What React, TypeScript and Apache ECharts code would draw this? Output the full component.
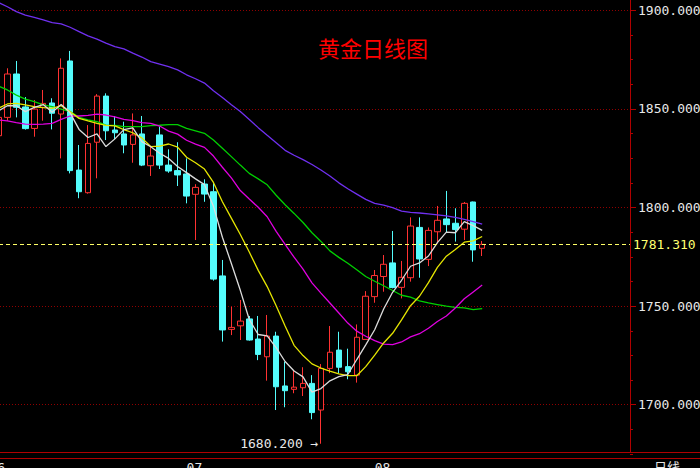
import React, { useEffect, useRef } from 'react';
import * as echarts from 'echarts';

// ---- categories (month tags) ----
const monthLabels = ['06', '07', '08'];
const monthStartSlots = [0, 22, 43];
const leadSlots = 1;
const totalSlots = 72;

// ---- daily candles ----
const opens = [1836.4, 1845.7, 1867.7, 1851.0, 1840.1, 1850.8, 1853.0, 1847.4, 1874.3, 1819.0, 1807.5, 1833.1, 1856.5, 1839.3, 1837.3, 1832.0, 1837.3, 1821.2, 1836.8, 1821.5, 1818.7, 1817.0, 1806.7, 1811.9, 1808.0, 1765.3, 1738.2, 1740.0, 1743.5, 1733.3, 1724.3, 1734.8, 1709.5, 1707.8, 1708.6, 1710.8, 1697.3, 1718.4, 1727.7, 1719.3, 1715.0, 1733.1, 1754.8, 1765.0, 1771.9, 1759.5, 1764.4, 1789.9, 1773.7, 1787.7, 1794.2, 1792.0, 1789.0, 1802.8, 1779.3];
const closes = [1845.7, 1867.7, 1850.8, 1840.0, 1849.9, 1852.8, 1847.8, 1870.6, 1818.7, 1808.0, 1832.5, 1856.5, 1838.9, 1837.9, 1831.7, 1836.8, 1821.5, 1826.1, 1821.5, 1818.5, 1816.5, 1805.8, 1810.2, 1806.8, 1763.7, 1737.9, 1739.2, 1742.4, 1732.8, 1725.5, 1734.8, 1709.1, 1707.1, 1708.9, 1710.8, 1696.0, 1718.4, 1726.6, 1719.0, 1716.7, 1734.2, 1755.0, 1765.5, 1771.2, 1759.4, 1764.6, 1790.6, 1773.9, 1788.4, 1793.5, 1791.3, 1788.8, 1802.1, 1778.5, 1781.31];
const lows = [1835.0, 1844.0, 1845.7, 1839.5, 1835.9, 1844.0, 1839.6, 1824.9, 1817.3, 1804.7, 1807.0, 1814.8, 1834.2, 1834.6, 1827.5, 1822.7, 1821.0, 1816.0, 1819.5, 1817.6, 1810.9, 1802.1, 1783.5, 1802.9, 1762.9, 1732.0, 1735.3, 1732.8, 1732.5, 1722.6, 1712.2, 1697.3, 1698.7, 1705.8, 1704.4, 1692.6, 1680.2, 1716.0, 1716.0, 1712.9, 1711.2, 1733.0, 1751.7, 1757.3, 1759.0, 1753.9, 1762.4, 1764.4, 1770.3, 1781.8, 1787.4, 1782.7, 1783.5, 1772.5, 1775.4];
const highs = [1847.0, 1870.6, 1874.3, 1856.0, 1854.5, 1859.6, 1855.4, 1875.6, 1879.4, 1831.7, 1841.8, 1857.5, 1857.9, 1846.4, 1843.5, 1847.7, 1846.4, 1830.8, 1841.0, 1829.5, 1833.1, 1824.9, 1811.8, 1814.3, 1812.3, 1773.4, 1749.7, 1753.1, 1745.0, 1745.0, 1745.5, 1737.0, 1721.8, 1717.6, 1719.0, 1715.0, 1720.6, 1739.9, 1737.0, 1728.4, 1740.7, 1757.6, 1768.3, 1775.9, 1788.1, 1772.9, 1795.0, 1795.0, 1789.9, 1800.8, 1808.4, 1799.6, 1802.8, 1803.0, 1783.0];

// ---- moving averages ----
const ma5 = [1849.0, 1851.6, 1851.6, 1848.6, 1850.8, 1852.2, 1848.3, 1852.2, 1848.0, 1839.6, 1835.5, 1837.3, 1830.9, 1834.8, 1839.5, 1840.4, 1833.4, 1830.8, 1827.5, 1824.9, 1820.8, 1817.7, 1814.5, 1811.6, 1800.6, 1784.9, 1771.6, 1758.0, 1743.2, 1735.6, 1734.9, 1728.9, 1721.9, 1717.1, 1714.1, 1706.4, 1708.2, 1712.1, 1714.2, 1715.3, 1722.9, 1730.3, 1738.0, 1748.5, 1757.0, 1763.1, 1770.2, 1771.9, 1775.4, 1782.2, 1787.5, 1787.2, 1792.8, 1790.8, 1788.4];
const ma10 = [1850.3, 1852.5, 1852.8, 1852.0, 1851.1, 1850.6, 1850.3, 1851.6, 1848.6, 1845.2, 1843.9, 1842.7, 1841.6, 1841.4, 1839.5, 1837.9, 1835.3, 1830.9, 1831.1, 1832.2, 1830.6, 1825.5, 1822.7, 1819.5, 1812.7, 1802.9, 1794.6, 1786.3, 1777.4, 1768.1, 1759.9, 1750.2, 1739.9, 1730.1, 1724.9, 1720.7, 1718.6, 1717.0, 1715.6, 1714.7, 1714.7, 1719.3, 1725.1, 1731.3, 1736.2, 1743.0, 1750.2, 1755.0, 1761.9, 1769.6, 1775.3, 1778.7, 1782.4, 1783.1, 1785.3];
const ma20 = [1844.4, 1843.9, 1843.0, 1842.3, 1842.2, 1842.3, 1842.7, 1844.7, 1846.4, 1846.4, 1846.7, 1847.4, 1846.9, 1846.0, 1844.7, 1844.0, 1843.0, 1842.7, 1841.3, 1838.7, 1837.2, 1834.1, 1832.1, 1830.5, 1826.1, 1820.4, 1815.0, 1808.6, 1804.3, 1800.1, 1795.3, 1787.9, 1781.3, 1774.8, 1768.8, 1761.8, 1756.6, 1751.6, 1746.5, 1741.4, 1737.3, 1734.7, 1732.5, 1730.7, 1730.5, 1731.8, 1734.4, 1736.0, 1738.8, 1742.2, 1745.0, 1749.0, 1753.7, 1757.2, 1760.7];
const ma30 = [1861.6, 1859.6, 1857.0, 1855.0, 1853.7, 1852.0, 1851.1, 1849.9, 1848.6, 1845.7, 1844.4, 1843.5, 1841.8, 1841.6, 1841.0, 1841.0, 1841.0, 1841.5, 1841.7, 1842.0, 1842.0, 1840.1, 1838.9, 1837.6, 1834.2, 1830.0, 1825.8, 1821.5, 1817.3, 1814.5, 1811.5, 1806.2, 1801.4, 1797.0, 1792.4, 1787.2, 1782.8, 1778.0, 1774.7, 1771.7, 1768.4, 1765.0, 1762.6, 1760.3, 1757.9, 1755.5, 1754.5, 1752.7, 1751.6, 1750.8, 1750.0, 1749.4, 1749.1, 1748.2, 1748.7];
const ma60 = [1904.0, 1901.8, 1899.3, 1897.6, 1896.4, 1895.1, 1893.7, 1893.1, 1891.4, 1889.2, 1887.0, 1885.4, 1883.4, 1881.6, 1880.4, 1878.3, 1876.3, 1874.0, 1872.7, 1871.4, 1869.8, 1867.3, 1865.3, 1863.1, 1859.2, 1855.8, 1852.1, 1848.7, 1844.6, 1840.5, 1836.6, 1832.8, 1829.0, 1826.5, 1824.3, 1821.8, 1819.0, 1816.0, 1812.5, 1809.5, 1806.8, 1804.1, 1802.1, 1801.2, 1799.9, 1798.2, 1797.5, 1797.2, 1796.8, 1796.3, 1795.7, 1795.0, 1794.0, 1792.8, 1791.6];

// ---- value axis ----
const yMin = 1650;
const yMax = 1950;
const yStep = 50;

const titleText = '黄金日线图';
const periodText = '日线';

const RED = '#ff3232';
const CYAN = '#54fcfc';
const AXIS_RED = '#b00000';
const GRID_RED = '#900000';
const LABEL = '#e8e8e8';
const MONO = '"DejaVu Sans Mono", monospace';

export default function App() {
  const ref = useRef<HTMLDivElement>(null);

  useEffect(() => {
    if (!ref.current) return;
    const chart = echarts.init(ref.current, null, { renderer: 'svg' });

    const categories: string[] = [];
    let m = 0;
    for (let s = 0; s < totalSlots; s++) {
      const k = monthStartSlots.indexOf(s);
      if (k >= 0) m = k;
      categories.push(`${monthLabels[m]}-${s}`);
    }

    const candleData = opens.map((o, i) => [i + leadSlots, o, closes[i], lows[i], highs[i]]);
    const toLine = (arr: number[]) => arr.map((v, i) => [i + leadSlots, v]);

    let lowIdx = 0;
    lows.forEach((v, i) => { if (v < lows[lowIdx]) lowIdx = i; });
    const lowVal = lows[lowIdx];
    const lastClose = closes[closes.length - 1];

    const maLine = (name: string, data: number[], color: string) => ({
      type: 'line',
      name,
      data: toLine(data),
      showSymbol: false,
      symbol: 'none',
      silent: true,
      lineStyle: { width: 1.3, color },
      itemStyle: { color },
    });

    const option: any = {
      animation: false,
      backgroundColor: '#000000',
      textStyle: { fontFamily: MONO },
      title: {
        text: titleText,
        left: 313,
        top: 31,
        textStyle: { color: '#ff0000', fontSize: 22, fontWeight: 'normal', fontFamily: '"Noto Sans CJK SC"' },
      },
      grid: { left: -15, right: 70, top: -88.3, bottom: -35.3, containLabel: false, outerBoundsMode: 'none' },
      xAxis: {
        type: 'category',
        data: categories,
        boundaryGap: true,
        position: 'bottom',
        offset: -51.3,
        axisLine: { show: false },
        axisTick: { show: false },
        splitLine: { show: false },
        axisLabel: {
          interval: (i: number) => monthStartSlots.includes(i),
          formatter: (v: string) => v.split('-')[0],
          align: 'left',
          margin: 9,
          color: LABEL,
          fontFamily: MONO,
          fontSize: 13,
        },
      },
      yAxis: {
        type: 'value',
        position: 'right',
        min: yMin,
        max: yMax,
        interval: yStep,
        axisLine: { show: false },
        axisTick: { show: true, length: 6, lineStyle: { color: AXIS_RED } },
        minorTick: { show: true, splitNumber: 4, length: 3, lineStyle: { color: AXIS_RED } },
        axisLabel: { margin: 8, formatter: (v: number) => v.toFixed(3), color: LABEL, fontFamily: MONO, fontSize: 13 },
        splitLine: { show: true, lineStyle: { color: GRID_RED, type: [1, 2], width: 1 } },
      },
      graphic: [
        { type: 'line', silent: true, z: 50, shape: { x1: 630.5, y1: 0, x2: 630.5, y2: 452 }, style: { stroke: AXIS_RED, lineWidth: 1 } },
        { type: 'line', silent: true, z: 50, shape: { x1: 0, y1: 452.5, x2: 700, y2: 452.5 }, style: { stroke: AXIS_RED, lineWidth: 1 } },
        { type: 'line', silent: true, z: 50, shape: { x1: 0, y1: 458.5, x2: 700, y2: 458.5 }, style: { stroke: AXIS_RED, lineWidth: 1 } },
        { type: 'text', silent: true, z: 50, x: 654, y: 460, style: { text: periodText, fill: LABEL, font: '13px "Noto Sans CJK SC"', verticalAlign: 'top' } },
      ],
      series: [
        {
          type: 'candlestick',
          name: 'K',
          data: candleData,
          encode: { x: 0, y: [1, 2, 3, 4] },
          barWidth: 6,
          silent: true,
          itemStyle: { color: '#000000', color0: CYAN, borderColor: RED, borderColor0: CYAN, borderWidth: 1 },
          markLine: {
            silent: true,
            symbol: ['none', 'none'],
            data: [{ yAxis: lastClose }],
            lineStyle: { color: '#ffff66', type: [4, 3], width: 1 },
            label: {
              position: 'end',
              distance: 3,
              formatter: (p: any) => Number(p.value).toFixed(3),
              color: '#ffff70',
              fontFamily: MONO,
              fontSize: 13,
            },
          },
          markPoint: {
            silent: true,
            symbol: 'circle',
            symbolSize: 1,
            itemStyle: { color: 'rgba(0,0,0,0)' },
            data: [{ coord: [lowIdx + leadSlots, lowVal], value: lowVal }],
            label: {
              show: true,
              position: 'left',
              distance: 2,
              formatter: `${lowVal.toFixed(3)} →`,
              color: LABEL,
              fontFamily: MONO,
              fontSize: 13,
            },
          },
        },
        maLine('MA60', ma60, '#7030f0'),
        maLine('MA30', ma30, '#00d000'),
        maLine('MA20', ma20, '#e000e0'),
        maLine('MA10', ma10, '#e6e600'),
        maLine('MA5', ma5, '#dcdcdc'),
      ],
    };

    chart.setOption(option);
    return () => chart.dispose();
  }, []);

  return (
    <div
      ref={ref}
      style={{ position: 'fixed', left: 0, top: 0, width: 700, height: 468, background: '#000' }}
    />
  );
}
